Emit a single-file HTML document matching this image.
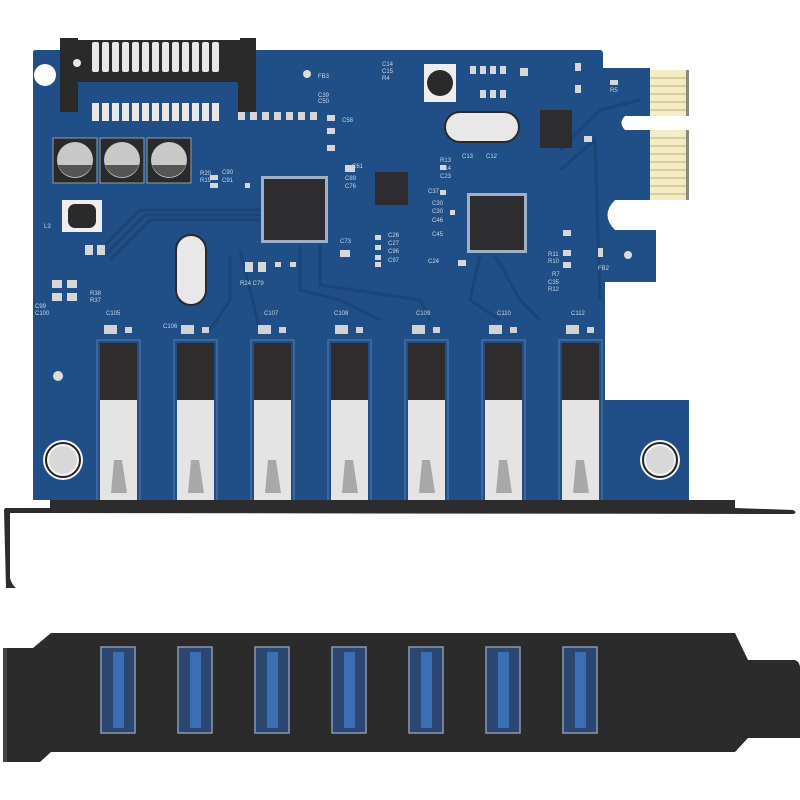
<!DOCTYPE html>
<html><head><meta charset="utf-8"><style>
html,body{margin:0;padding:0;background:#fff;width:800px;height:800px;overflow:hidden}
svg text{font-family:"Liberation Sans",sans-serif;fill:#c9d6e6;font-size:6px}
</style></head><body>
<svg width="800" height="800" viewBox="0 0 800 800" xmlns="http://www.w3.org/2000/svg">
<!-- PCB -->
<path d="M33,52 Q33,50 36,50 L600,50 Q603,50 603,54 L603,68 L650,68 L650,116 L625,116 Q618,123 625,130 L650,130 L650,200 L615,200 Q600,215 615,230 L656,230 L656,282 L605,282 L605,400 L689,400 L689,500 L33,500 Z" fill="#1f4f86"/>
<!-- gold fingers -->
<rect x="650" y="70" width="38" height="46" fill="#f3ecc4"/>
<rect x="650" y="130" width="38" height="70" fill="#f3ecc4"/>
<g stroke="#b9ad78" stroke-width="1">
<line x1="650" y1="78" x2="686" y2="78"/><line x1="650" y1="86" x2="686" y2="86"/><line x1="650" y1="94" x2="686" y2="94"/><line x1="650" y1="102" x2="686" y2="102"/><line x1="650" y1="110" x2="686" y2="110"/>
<line x1="650" y1="138" x2="686" y2="138"/><line x1="650" y1="146" x2="686" y2="146"/><line x1="650" y1="154" x2="686" y2="154"/><line x1="650" y1="162" x2="686" y2="162"/><line x1="650" y1="170" x2="686" y2="170"/><line x1="650" y1="178" x2="686" y2="178"/><line x1="650" y1="186" x2="686" y2="186"/><line x1="650" y1="194" x2="686" y2="194"/>
</g>
<rect x="686" y="70" width="3" height="46" fill="#8a8a7a"/><rect x="686" y="130" width="3" height="70" fill="#8a8a7a"/>
<!-- traces -->
<g fill="none" stroke="#1a4576" stroke-width="3">
<path d="M100,250 L140,210 L260,210"/><path d="M105,255 L145,215 L260,215"/><path d="M110,260 L150,220 L260,220"/>
<path d="M300,245 L300,290 L340,300 L380,320"/><path d="M320,245 L320,285 L420,300 L430,320"/>
<path d="M495,255 L520,300 L540,320"/><path d="M480,255 L470,300 L500,320"/>
<path d="M560,150 L600,110 L640,100"/><path d="M560,170 L595,140 L600,300"/>
<path d="M240,250 L250,290 L260,330"/><path d="M230,255 L230,300 L210,330"/>
</g>
<!-- SATA connector -->
<path d="M60,38 L78,38 L78,40 L240,40 L240,38 L256,38 L256,112 L238,112 L238,75 L78,75 L78,112 L60,112 Z" fill="#2a2a2a"/>
<rect x="78" y="72" width="160" height="10" fill="#2a2a2a"/>
<g fill="#e8e8e8">
<rect x="92" y="42" width="7" height="30" rx="2"/><rect x="102" y="42" width="7" height="30" rx="2"/><rect x="112" y="42" width="7" height="30" rx="2"/><rect x="122" y="42" width="7" height="30" rx="2"/><rect x="132" y="42" width="7" height="30" rx="2"/><rect x="142" y="42" width="7" height="30" rx="2"/><rect x="152" y="42" width="7" height="30" rx="2"/><rect x="162" y="42" width="7" height="30" rx="2"/><rect x="172" y="42" width="7" height="30" rx="2"/><rect x="182" y="42" width="7" height="30" rx="2"/><rect x="192" y="42" width="7" height="30" rx="2"/><rect x="202" y="42" width="7" height="30" rx="2"/><rect x="212" y="42" width="7" height="30" rx="2"/>
<rect x="92" y="103" width="7" height="18"/><rect x="102" y="103" width="7" height="18"/><rect x="112" y="103" width="7" height="18"/><rect x="122" y="103" width="7" height="18"/><rect x="132" y="103" width="7" height="18"/><rect x="142" y="103" width="7" height="18"/><rect x="152" y="103" width="7" height="18"/><rect x="162" y="103" width="7" height="18"/><rect x="172" y="103" width="7" height="18"/><rect x="182" y="103" width="7" height="18"/><rect x="192" y="103" width="7" height="18"/><rect x="202" y="103" width="7" height="18"/><rect x="212" y="103" width="7" height="18"/>
</g>
<circle cx="45" cy="75" r="11" fill="#fff"/>
<circle cx="77" cy="63" r="4" fill="#e8e8e8"/>
<!-- electrolytic caps -->
<g>
<rect x="53" y="138" width="44" height="45" fill="#2a2a2a" stroke="#8e9fb3"/><circle cx="75" cy="160" r="18" fill="#c8c8c8"/><path d="M58,165 A18,18 0 0 0 92,165 Z" fill="#555"/>
<rect x="100" y="138" width="44" height="45" fill="#2a2a2a" stroke="#8e9fb3"/><circle cx="122" cy="160" r="18" fill="#c8c8c8"/><path d="M105,165 A18,18 0 0 0 139,165 Z" fill="#555"/>
<rect x="147" y="138" width="44" height="45" fill="#2a2a2a" stroke="#8e9fb3"/><circle cx="169" cy="160" r="18" fill="#c8c8c8"/><path d="M152,165 A18,18 0 0 0 186,165 Z" fill="#555"/>
</g>
<!-- inductors -->
<rect x="62" y="200" width="40" height="32" fill="#eee"/><rect x="68" y="204" width="28" height="24" rx="7" fill="#2a2a2a"/>
<rect x="424" y="64" width="32" height="38" fill="#eee"/><circle cx="440" cy="83" r="13" fill="#2a2a2a"/>
<!-- chips -->
<rect x="261" y="176" width="67" height="67" fill="#9fb0c4"/><rect x="264" y="179" width="61" height="61" fill="#2d2d2f"/>
<rect x="467" y="193" width="60" height="60" fill="#9fb0c4"/><rect x="470" y="196" width="54" height="54" fill="#2d2d2f"/>
<rect x="375" y="172" width="33" height="33" fill="#2d2d2f"/>
<rect x="540" y="110" width="32" height="38" fill="#2d2d2f"/>
<!-- crystals -->
<rect x="445" y="112" width="74" height="30" rx="15" fill="#e8e8e8" stroke="#2a2a2a" stroke-width="2"/>
<rect x="176" y="235" width="30" height="70" rx="15" fill="#e8e8e8" stroke="#2a2a2a" stroke-width="2"/>
<!-- small smd -->
<g fill="#d7d7d7">
<rect x="238" y="112" width="7" height="8"/><rect x="250" y="112" width="7" height="8"/><rect x="262" y="112" width="7" height="8"/><rect x="274" y="112" width="7" height="8"/><rect x="286" y="112" width="7" height="8"/><rect x="298" y="112" width="7" height="8"/><rect x="310" y="112" width="7" height="8"/>
<rect x="327" y="115" width="8" height="6"/><rect x="327" y="128" width="8" height="6"/><rect x="327" y="145" width="8" height="6"/>
<rect x="470" y="66" width="6" height="8"/><rect x="480" y="66" width="6" height="8"/><rect x="490" y="66" width="6" height="8"/><rect x="500" y="66" width="6" height="8"/><rect x="520" y="68" width="8" height="8"/>
<rect x="490" y="90" width="6" height="8"/><rect x="500" y="90" width="6" height="8"/><rect x="480" y="90" width="6" height="8"/>
<rect x="345" y="165" width="10" height="7"/><rect x="440" y="165" width="6" height="5"/><rect x="440" y="190" width="6" height="5"/><rect x="450" y="210" width="5" height="5"/>
<rect x="375" y="235" width="6" height="5"/><rect x="375" y="245" width="6" height="5"/><rect x="375" y="255" width="6" height="5"/><rect x="375" y="262" width="6" height="5"/>
<rect x="340" y="250" width="10" height="7"/><rect x="458" y="260" width="8" height="6"/>
<rect x="245" y="262" width="8" height="10"/><rect x="258" y="262" width="8" height="10"/><rect x="275" y="262" width="6" height="5"/><rect x="290" y="262" width="6" height="5"/>
<rect x="85" y="245" width="8" height="10"/><rect x="97" y="245" width="8" height="10"/>
<rect x="52" y="280" width="10" height="8"/><rect x="67" y="280" width="10" height="8"/><rect x="52" y="293" width="10" height="8"/><rect x="67" y="293" width="10" height="8"/>
<rect x="563" y="230" width="8" height="6"/><rect x="563" y="250" width="8" height="6"/><rect x="563" y="262" width="8" height="6"/><rect x="598" y="248" width="5" height="9"/>
<rect x="575" y="63" width="6" height="8"/><rect x="575" y="85" width="6" height="8"/><rect x="610" y="80" width="8" height="5"/>
<rect x="210" y="175" width="8" height="5"/><rect x="210" y="183" width="8" height="5"/><rect x="245" y="183" width="5" height="5"/>
<rect x="584" y="136" width="8" height="6"/>
</g>
<g font-size="5.5">
<text x="318" y="78">FB3</text><text x="318" y="97">C39</text><text x="318" y="103">C50</text><text x="342" y="122">C58</text>
<text x="382" y="66">C14</text><text x="382" y="73">C15</text><text x="382" y="80">R4</text>
<text x="440" y="162">R13</text><text x="440" y="170">R14</text><text x="440" y="178">C23</text><text x="428" y="193">C37</text>
<text x="432" y="205">C30</text><text x="432" y="213">C30</text><text x="432" y="222">C46</text><text x="432" y="236">C45</text><text x="428" y="263">C24</text>
<text x="462" y="158">C13</text><text x="486" y="158">C12</text><text x="388" y="237">C26</text><text x="388" y="245">C27</text><text x="388" y="253">C96</text><text x="388" y="262">C97</text>
<text x="340" y="243">C73</text><text x="352" y="168">C61</text><text x="345" y="180">C89</text><text x="345" y="188">C76</text>
<text x="222" y="174">C90</text><text x="222" y="182">C91</text><text x="200" y="175">R20</text><text x="200" y="182">R19</text>
<text x="240" y="285">R24 C79</text><text x="90" y="295">R38</text><text x="90" y="302">R37</text><text x="35" y="308">C99</text><text x="35" y="315">C100</text>
<text x="106" y="315">C105</text><text x="163" y="328">C106</text><text x="264" y="315">C107</text><text x="334" y="315">C108</text><text x="416" y="315">C109</text><text x="497" y="315">C110</text><text x="571" y="315">C112</text>
<text x="548" y="256">R11</text><text x="548" y="263">R10</text><text x="552" y="276">R7</text><text x="548" y="284">C35</text><text x="548" y="291">R12</text><text x="598" y="270">FB2</text><text x="610" y="92">R5</text>
<text x="44" y="228">L3</text>
</g>
<!-- USB ports on PCB -->
<g>
<g id="p"><rect x="97" y="340" width="43" height="162" fill="none" stroke="#5c7fa8" stroke-width="1"/><rect x="100" y="343" width="37" height="57" fill="#2e2c2c"/><rect x="100" y="400" width="37" height="100" fill="#e4e4e4"/><path d="M111,493 L114,460 L122,460 L127,493 Z" fill="#a8a8a8"/><rect x="104" y="325" width="13" height="9" fill="#d2d2d2"/><rect x="125" y="327" width="7" height="6" fill="#d2d2d2"/></g>
<use href="#p" x="77"/><use href="#p" x="154"/><use href="#p" x="231"/><use href="#p" x="308"/><use href="#p" x="385"/><use href="#p" x="462"/>
</g>
<!-- mounting holes -->
<circle cx="63" cy="460" r="20" fill="#f4f4f4"/><circle cx="63" cy="460" r="17" fill="none" stroke="#222" stroke-width="2"/><circle cx="63" cy="460" r="14" fill="#d8d8d8"/>
<circle cx="660" cy="460" r="20" fill="#f4f4f4"/><circle cx="660" cy="460" r="17" fill="none" stroke="#222" stroke-width="2"/><circle cx="660" cy="460" r="14" fill="#d8d8d8"/>
<circle cx="58" cy="376" r="5" fill="#ddd"/><circle cx="628" cy="255" r="4" fill="#ddd"/><circle cx="307" cy="74" r="4" fill="#ddd"/>
<!-- top bracket -->
<path d="M50,500 L735,500 L735,508 L793,510 Q798,513 793,514 L50,513 Z" fill="#2c2c2c"/>
<path d="M5,508 L50,508 L50,513 L10,513 L10,578 Q12,585 16,588 L6,588 L4,510 Z" fill="#2c2c2c"/>
<!-- bottom bracket -->
<path d="M51,633 L735,633 L748,660 L795,660 Q800,662 800,668 L800,738 L748,738 L735,752 L51,752 L40,762 L5,762 L5,648 L33,648 Z" fill="#2b2b2b"/>
<path d="M5,648 L5,762" stroke="#444" stroke-width="4"/>
<g>
<g id="q"><rect x="101" y="647" width="34" height="86" fill="#2b4670" stroke="#8a9ab0" stroke-width="1.5"/><rect x="113" y="652" width="11" height="76" fill="#3a6fb3"/></g>
<use href="#q" x="77"/><use href="#q" x="154"/><use href="#q" x="231"/><use href="#q" x="308"/><use href="#q" x="385"/><use href="#q" x="462"/>
</g>
</svg>
</body></html>
